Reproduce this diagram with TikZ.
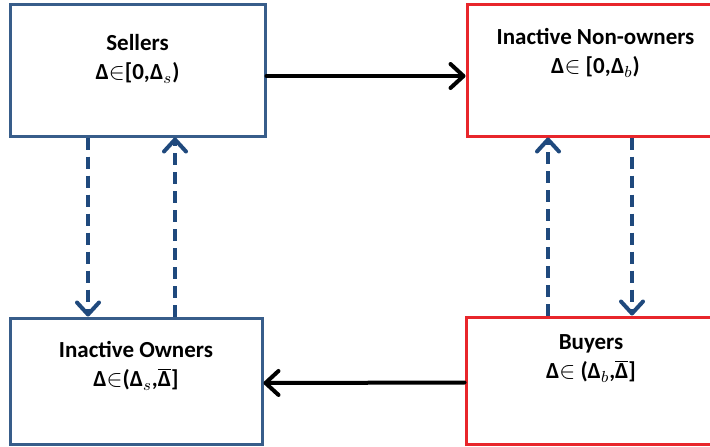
\documentclass[tikz,border=0pt]{standalone}
\usepackage{fontspec}
\setmainfont{Carlito}
\usetikzlibrary{positioning, arrows.meta}
\definecolor{boxblue}{RGB}{56,93,138}
\definecolor{boxred}{RGB}{232,38,43}
\definecolor{dashblue}{RGB}{31,73,125}
\tikzstyle{bluebox} = [rectangle, draw=boxblue, line width=1.5pt, fill=white]
\tikzstyle{redbox} = [rectangle, draw=boxred, line width=1.5pt, fill=white]
\tikzstyle{boxtext} = [align=center, font=\bfseries\fontsize{11.5pt}{14.5pt}\selectfont, inner sep=0pt]
\tikzstyle{arrow} = [line width=2pt, black, line cap=round, -{Straight Barb[length=6.5pt, width=12pt, round]}]
\tikzstyle{dasharrow} = [line width=2pt, dashblue, dash pattern=on 6pt off 3.5pt, -{Straight Barb[length=6pt, width=11pt, round]}]

\begin{document}
\begin{tikzpicture}[x=1pt, y=1pt]
		\useasboundingbox (0,0) rectangle (355,223);
		%定义方框
		\node (sellers) [bluebox, minimum width=127.5pt, minimum height=66pt] at (68.75,188) {};
		\node (nonowners) [redbox, minimum width=124.5pt, minimum height=66pt] at (295.75,188) {};
		\node (owners) [bluebox, minimum width=126pt, minimum height=63pt] at (68,32.5) {};
		\node (buyers) [redbox, minimum width=125pt, minimum height=63.5pt] at (295.5,32.75) {};
		
		%方框文字
		\node (sellerstext) [boxtext] at ([yshift=5.5pt]sellers.center) {Sellers\\ Δ$\in$[0,Δ$_s$)};
		\node (nonownerstext) [boxtext] at ([xshift=2pt, yshift=8.5pt]nonowners.center) {Inactive Non-owners\\ Δ$\in$ [0,Δ$_b$)};
		\node (ownerstext) [boxtext] at ([yshift=7.5pt]owners.center) {Inactive Owners\\ Δ$\in$(Δ$_s$,$\overline{\mbox{Δ}}$]};
		\node (buyerstext) [boxtext] at ([yshift=11pt]buyers.center) {Buyers\\ Δ$\in$ (Δ$_b$,$\overline{\mbox{Δ}}$]};
		
		%连接方框
		\draw [arrow] ([yshift=-3pt]sellers.east) -- ([yshift=-3pt]nonowners.west);
		\draw [arrow] ([yshift=-1pt]buyers.west) -- ([yshift=-1pt]owners.east);
		\draw [dasharrow] ([xshift=-24.75pt]sellers.south) -- ([xshift=-24pt]owners.north);
		\draw [dasharrow] ([xshift=19.5pt]owners.north) -- ([xshift=18.75pt]sellers.south);
		\draw [dasharrow] ([xshift=-21.5pt]buyers.north) -- ([xshift=-21.75pt]nonowners.south);
		\draw [dasharrow] ([xshift=20.25pt]nonowners.south) -- ([xshift=20.5pt]buyers.north);
	\end{tikzpicture}
\end{document}
